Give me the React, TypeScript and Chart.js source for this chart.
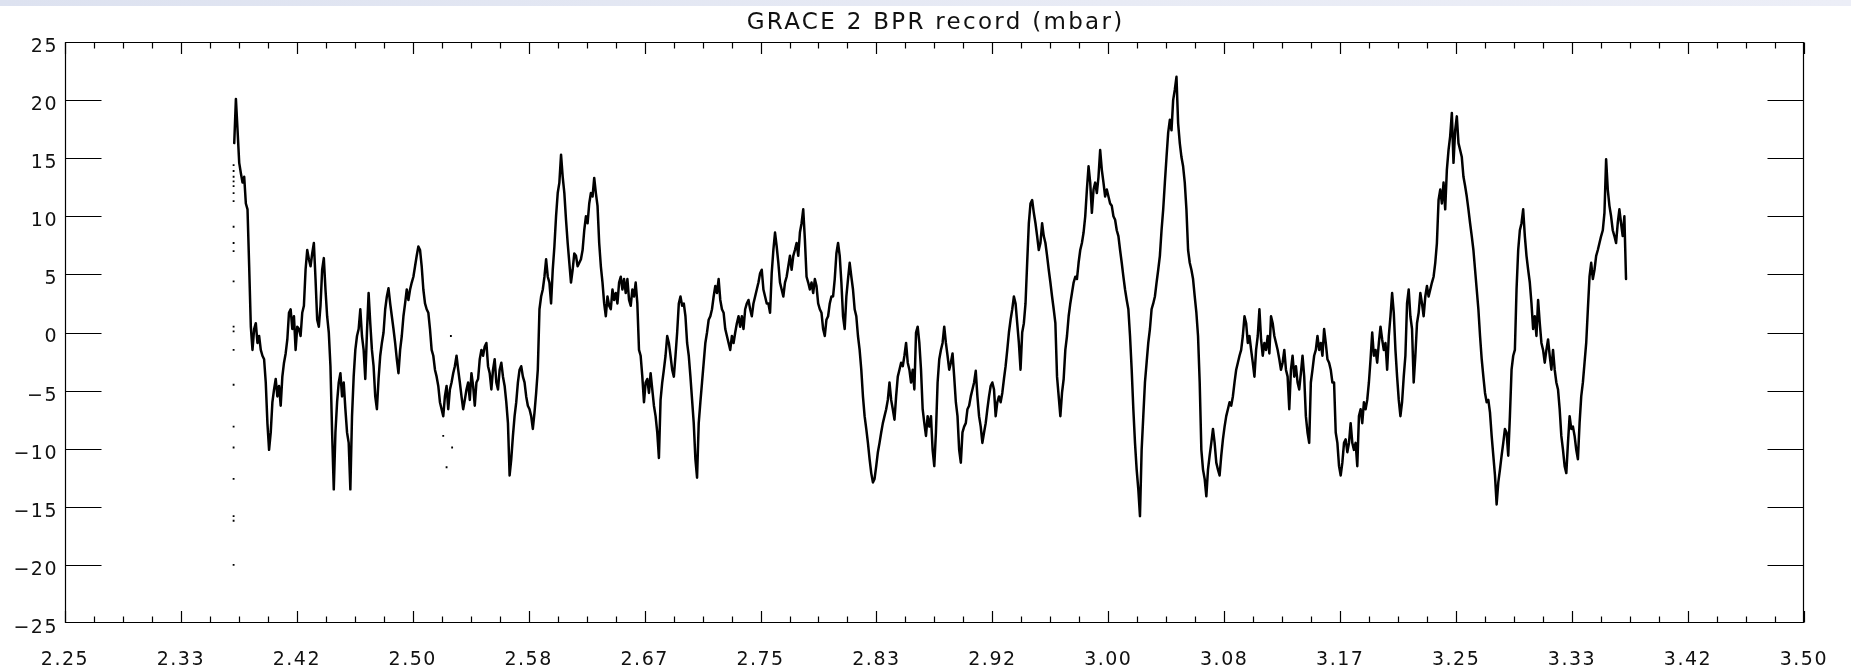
import React, { useEffect, useRef } from "react";
import { Chart, registerables } from "chart.js";

Chart.register(...registerables);

const TITLE = "GRACE 2 BPR record (mbar)";
const X_MIN = 2.25;
const X_MAX = 3.5;
const Y_MIN = -25;
const Y_MAX = 25;

const xTickValues = [2.25, 2.3333, 2.4167, 2.5, 2.5833, 2.6667, 2.75, 2.8333, 2.9167, 3.0, 3.0833, 3.1667, 3.25, 3.3333, 3.4167, 3.5];
const yTickValues = [-25, -20, -15, -10, -5, 0, 5, 10, 15, 20, 25];

// regular sampling grid of the record (time axis)
const RECORD_START = 2.37166;
const RECORD_STEP = 0.0011925;

// BPR values (mbar) in four consecutive parts
const bprPart1 = [
  16.3, 20.1, 17.4, 14.6, 13.7, 12.9, 13.4, 11.1, 10.6, 5.7,
  0.5, -1.5, 0.3, 0.8, -0.9, -0.3, -1.5, -2.0, -2.3, -4.3,
  -7.8, -10.1, -8.6, -6.0, -4.9, -4.0, -5.5, -4.6, -6.3, -3.8,
  -2.6, -1.8, -0.6, 1.7, 2.0, 0.3, 1.4, -1.5, 0.5, 0.3,
  -0.3, 1.7, 2.3, 5.4, 7.1, 6.3, 5.7, 6.8, 7.7, 4.6,
  1.1, 0.5, 2.3, 5.4, 6.4, 3.7, 1.4, 0.0, -2.9, -8.6,
  -13.5, -8.6, -6.0, -4.3, -3.5, -5.5, -4.3, -6.6, -8.6, -9.5,
  -13.5, -7.2, -3.8, -1.5, -0.3, 0.3, 2.0, -0.3, -1.5, -4.0,
  0.0, 3.4, 0.8, -1.5, -2.9, -5.5, -6.6, -4.0, -2.0, -0.9,
  0.0, 2.0, 3.1, 3.8, 2.5, 1.4, 0.3, -0.9, -2.3, -3.5,
  -1.5, -0.3, 1.4, 2.5, 3.7, 2.8, 3.7, 4.3, 4.8, 5.7,
  6.6, 7.4, 7.1, 5.7, 3.7, 2.5, 2.0, 1.7, 0.3, -1.5,
  -2.0, -3.2, -3.8, -4.6, -6.0, -6.6, -7.2, -5.5, -4.6, -6.6,
  -4.9, -4.3, -3.5, -2.9, -2.0, -3.2, -4.3, -5.5, -6.6, -5.8,
  -4.9, -4.3, -5.8, -3.5, -4.6, -6.3, -4.3, -4.0, -2.3, -1.5,
  -2.0, -1.2, -0.9, -2.9, -3.5, -4.9, -3.2, -2.3, -4.3, -4.9,
  -3.2, -2.6, -3.8, -4.6, -6.0, -7.8, -12.3, -10.9, -8.9, -7.2,
  -6.0, -4.3, -3.2, -2.9, -3.8, -4.3, -5.5, -6.3, -6.6, -7.2,
  -8.3, -6.9, -5.2, -3.2, 2.0, 3.1, 3.7, 4.8, 6.3, 4.8,
  4.3, 2.5, 5.4, 7.4, 10.0, 12.0, 12.9, 15.3, 13.4, 12.0,
  9.7, 7.7, 6.0, 4.3, 5.4, 6.8, 6.6,
];

const bprPart2 = [
  5.7, 6.0, 6.3, 7.1, 8.8, 10.0, 9.4, 11.1, 12.0, 11.7,
  13.3, 12.0, 10.9, 7.7, 5.7, 4.3, 2.5, 1.4, 3.1, 2.3,
  2.0, 3.7, 2.8, 3.4, 2.5, 4.3, 4.8, 3.7, 4.6, 3.4,
  4.6, 2.8, 2.3, 3.7, 3.1, 4.3, 2.5, -1.5, -2.0, -3.8,
  -6.0, -4.3, -4.0, -5.2, -3.5, -4.9, -6.3, -7.2, -8.6, -10.8,
  -5.8, -4.3, -3.2, -2.0, -0.3, -0.9, -2.0, -3.2, -3.8, -2.0,
  0.0, 2.5, 3.1, 2.3, 2.5, 1.4, -0.9, -2.0, -3.8, -5.8,
  -7.8, -10.9, -12.5, -7.8, -6.0, -4.3, -2.6, -0.9, 0.0, 1.1,
  1.4, 2.0, 3.1, 4.0, 3.4, 4.6, 2.8, 2.0, 1.7, 0.3,
  -0.3, -0.9, -1.5, -0.3, -0.9, 0.0, 0.8, 1.4, 0.5, 1.4,
  0.3, 2.0, 2.5, 2.8, 2.0, 1.4, 2.5, 3.1, 3.7, 4.3,
  5.1, 5.4, 3.7, 3.1, 2.5, 2.5, 1.7, 5.1, 7.1, 8.6,
  7.4, 6.0, 4.3, 3.7, 3.1, 4.3, 4.8, 5.7, 6.6, 5.4,
  6.6, 7.1, 7.7, 6.6, 8.6, 9.4, 10.6, 8.0, 4.8, 4.3,
  3.7, 4.3, 3.4, 4.6, 4.0, 2.5, 2.0, 1.7, 0.3, -0.3,
  1.1, 1.4, 2.5, 3.1, 3.1, 4.6, 6.8, 7.7, 6.6, 4.3,
  1.4, 0.3, 3.1, 4.6, 6.0, 4.8, 3.7, 2.0, 1.4, -0.3,
  -1.5, -3.2, -5.5, -7.2, -8.3, -9.5, -10.9, -12.1, -12.9, -12.6,
  -11.5, -10.3, -9.5, -8.6, -7.8, -7.2, -6.6, -5.8, -4.3, -5.8,
  -6.6, -7.5, -5.5, -3.8, -3.2, -2.6, -2.9, -2.0, -0.9, -2.6,
  -3.2, -4.3, -3.2, -4.9, 0.0, 0.5, -0.9, -3.2, -6.6, -7.8,
  -8.9, -7.2, -8.1,
];

const bprPart3 = [
  -7.2, -10.1, -11.5, -8.6, -4.3, -2.3, -1.5, -0.9, 0.5, -0.9,
  -2.0, -3.2, -2.6, -1.8, -3.8, -6.0, -7.2, -10.1, -11.2, -8.6,
  -8.1, -7.8, -6.6, -6.3, -5.5, -4.9, -4.3, -3.3, -5.5, -7.2,
  -8.1, -9.5, -8.6, -7.8, -6.6, -5.5, -4.6, -4.3, -4.9, -7.2,
  -6.0, -5.5, -6.0, -5.2, -4.0, -2.9, -1.5, 0.0, 1.1, 2.0,
  3.1, 2.5, 0.8, -0.9, -3.2, 0.0, 0.8, 2.5, 6.0, 9.4,
  11.1, 11.4, 10.3, 9.4, 8.3, 7.1, 7.7, 9.4, 8.3, 7.7,
  6.6, 5.4, 4.3, 3.1, 2.0, 0.8, -3.8, -5.5, -7.2, -5.2,
  -4.0, -1.5, -0.3, 1.4, 2.5, 3.4, 4.3, 4.8, 4.6, 6.0,
  7.1, 7.7, 8.6, 10.0, 12.3, 14.3, 12.9, 10.3, 12.3, 12.9,
  12.0, 13.4, 15.7, 14.0, 12.9, 11.7, 12.3, 11.7, 11.1, 10.9,
  10.0, 9.7, 8.8, 8.3, 7.1, 6.0, 4.8, 3.7, 2.8, 2.0,
  -0.3, -3.2, -6.6, -9.5, -11.8, -13.5, -15.8, -10.1, -7.2, -4.3,
  -2.6, -0.9, 0.3, 2.0, 2.5, 3.1, 4.3, 5.4, 6.6, 8.8,
  10.6, 12.9, 15.1, 17.2, 18.3, 17.4, 20.0, 20.9, 22.0, 18.0,
  16.3, 15.1, 14.3, 12.9, 10.6, 7.1, 6.0, 5.4, 4.6, 3.1,
  1.7, -0.3, -4.3, -10.1, -11.8, -12.6, -14.1, -11.8, -10.6, -9.5,
  -8.3, -9.5, -11.2, -11.8, -12.3, -10.6, -9.2, -8.1, -7.2, -6.6,
  -6.0, -6.3, -5.5, -4.3, -3.2, -2.6, -2.0, -1.5, -0.3, 1.4,
  0.8, -0.9, -0.3, -1.5, -2.6, -3.8, -1.5, -0.3, 2.0, -0.6,
  -2.0, -0.9, -1.5, -0.3, -1.8, 1.4, 0.8, -0.3, -0.9, -1.5,
  -2.3, -3.2, -2.6,
];

const bprPart4 = [
  -1.5, -3.2, -3.8, -6.6, -3.2, -2.0, -3.8, -2.9, -4.3, -4.9,
  -3.5, -2.0, -3.8, -7.2, -8.6, -9.5, -4.3, -3.2, -2.0, -1.5,
  -0.3, -1.5, -0.9, -2.0, 0.3, -0.9, -2.3, -2.6, -3.2, -4.3,
  -4.3, -8.6, -9.5, -11.5, -12.3, -11.2, -9.5, -9.2, -10.3, -9.5,
  -7.8, -9.5, -10.1, -9.5, -11.5, -7.2, -6.6, -7.8, -6.0, -6.6,
  -5.8, -4.3, -2.3, 0.0, -2.0, -1.5, -2.6, -0.9, 0.5, -0.6,
  -1.5, -0.9, -3.2, -0.3, 1.4, 3.4, 1.7, -1.5, -3.8, -5.8,
  -7.2, -6.0, -3.8, -2.0, 2.5, 3.7, 1.4, 0.3, -4.3, -2.0,
  0.8, 1.7, 3.4, 2.5, 1.4, 3.1, 4.0, 3.1, 3.7, 4.3,
  4.8, 6.0, 7.7, 11.4, 12.3, 11.1, 12.9, 10.6, 14.0, 15.7,
  16.9, 18.9, 14.6, 17.4, 18.6, 16.3, 15.7, 15.1, 13.4, 12.6,
  11.7, 10.6, 9.4, 8.3, 7.1, 5.4, 3.7, 2.0, -0.3, -2.3,
  -3.8, -5.2, -6.0, -5.8, -6.9, -8.9, -10.6, -12.3, -14.8, -12.9,
  -11.8, -10.6, -9.5, -8.3, -8.6, -10.6, -7.2, -3.2, -2.0, -1.5,
  3.7, 7.1, 8.8, 9.4, 10.6, 8.3, 6.6, 5.4, 4.3, 2.5,
  0.3, 1.4, -0.3, 2.8, 0.8, -0.9, -1.5, -2.6, -1.5, -0.6,
  -2.0, -3.2, -1.5, -3.2, -4.3, -4.9, -6.6, -8.9, -10.1, -11.5,
  -12.1, -9.5, -7.2, -8.3, -8.1, -8.9, -10.1, -10.9, -7.8, -5.5,
  -4.3, -2.6, -0.9, 2.0, 4.8, 6.0, 4.6, 5.4, 6.6, 7.1,
  7.7, 8.3, 8.8, 10.3, 14.9, 12.3, 10.9, 10.0, 8.8, 8.3,
  7.7, 9.4, 10.6, 9.4, 8.3, 10.0, 4.6,
];

// isolated samples plotted as single dots
const strayTimes = [
  2.3712, 2.3712, 2.3712, 2.3712, 2.3712, 2.3712, 2.3712, 2.3712, 2.3712, 2.3712, 2.3712,
  2.3712, 2.3712, 2.3712, 2.3712, 2.3712, 2.3712, 2.3712, 2.3712, 2.3712, 2.3712,
  2.5219, 2.5243, 2.5283, 2.5274,
];
const strayValues = [
  14.4, 13.9, 13.4, 13.0, 12.6, 12.0, 11.3, 9.1, 7.7, 7.0, 4.4,
  0.5, 0.1, -1.5, -4.5, -8.1, -9.9, -12.6, -15.8, -16.2, -20.0,
  -8.9, -11.6, -9.9, -0.3,
];

const FONT_FAMILY = '"DejaVu Sans", "Liberation Sans", sans-serif';

const formatY = (v: number) => (v < 0 ? "\u2212" + Math.abs(v) : String(v));

const idlFramePlugin = {
  id: "idlFrame",
  beforeDraw(chart: any) {
    (chart.ctx as any).letterSpacing = "1.5px";
  },
  afterDraw(chart: any) {
    const { ctx, chartArea, scales } = chart;
    const { left, right, top, bottom } = chartArea;
    const xs = scales.x;
    const ys = scales.y;
    const L = Math.round(left) + 0.5;
    const R = Math.round(right) - 0.5;
    const T = Math.round(top) + 0.5;
    const B = Math.round(bottom) - 0.5;
    ctx.save();
    ctx.strokeStyle = "#000";
    ctx.lineWidth = 1.2;
    ctx.beginPath();
    ctx.rect(L, T, R - L, B - T);
    ctx.stroke();

    const majorLen = 11.5;
    const minorLen = 6;
    ctx.beginPath();
    for (let i = 0; i < xTickValues.length; i++) {
      const px = Math.round(xs.getPixelForValue(xTickValues[i])) + 0.5;
      ctx.moveTo(px, B);
      ctx.lineTo(px, B - majorLen);
      ctx.moveTo(px, T);
      ctx.lineTo(px, T + majorLen);
      if (i < xTickValues.length - 1) {
        for (let k = 1; k < 4; k++) {
          const v = xTickValues[i] + ((xTickValues[i + 1] - xTickValues[i]) * k) / 4;
          const mx = Math.round(xs.getPixelForValue(v)) + 0.5;
          ctx.moveTo(mx, B);
          ctx.lineTo(mx, B - minorLen);
          ctx.moveTo(mx, T);
          ctx.lineTo(mx, T + minorLen);
        }
      }
    }
    const yLen = 36;
    for (const v of yTickValues) {
      if (v === Y_MIN || v === Y_MAX) continue;
      const py = Math.round(ys.getPixelForValue(v)) + 0.5;
      ctx.moveTo(L, py);
      ctx.lineTo(L + yLen, py);
      ctx.moveTo(R, py);
      ctx.lineTo(R - yLen, py);
    }
    ctx.stroke();

    ctx.fillStyle = "#111";
    ctx.font = "23px " + FONT_FAMILY;
    ctx.textAlign = "center";
    ctx.textBaseline = "middle";
    (ctx as any).letterSpacing = "2.3px";
    ctx.fillText(TITLE, (left + right) / 2 + 1.2, 23.5);
    ctx.restore();
    (ctx as any).letterSpacing = "0px";
  },
};

export default function App() {
  const canvasRef = useRef<HTMLCanvasElement | null>(null);

  useEffect(() => {
    const canvas = canvasRef.current;
    if (!canvas) return;
    const values = [...bprPart1, ...bprPart2, ...bprPart3, ...bprPart4];
    const tracePoints = values.map((v, i) => ({ x: RECORD_START + i * RECORD_STEP, y: v }));
    const strayPoints = strayTimes.map((t, i) => ({ x: t, y: strayValues[i] }));

    const tickFont = { family: FONT_FAMILY, size: 19 };

    const chart = new Chart(canvas, {
      type: "line",
      data: {
        datasets: [
          {
            label: "BPR",
            data: tracePoints,
            borderColor: "#000",
            backgroundColor: "#000",
            borderWidth: 2.5,
            borderJoinStyle: "round",
            borderCapStyle: "round",
            pointRadius: 0,
            tension: 0,
            fill: false,
          },
          {
            type: "scatter",
            label: "isolated",
            data: strayPoints,
            pointRadius: 1.3,
            pointStyle: "rect",
            backgroundColor: "#000",
            borderColor: "#000",
            borderWidth: 0,
            showLine: false,
          } as any,
        ],
      },
      options: {
        responsive: false,
        animation: false,
        devicePixelRatio: 1,
        events: [],
        layout: { padding: { top: 42, right: 39, bottom: 0, left: 0 } },
        plugins: {
          legend: { display: false },
          title: { display: false },
          tooltip: { enabled: false },
        },
        scales: {
          x: {
            type: "linear",
            min: X_MIN,
            max: X_MAX,
            grid: { display: false, drawTicks: false },
            border: { display: false },
            afterBuildTicks: (s: any) => {
              s.ticks = xTickValues.map((v) => ({ value: v }));
            },
            afterFit: (s: any) => {
              s.height = 45;
            },
            ticks: {
              autoSkip: false,
              maxRotation: 0,
              minRotation: 0,
              padding: 26,
              color: "#111",
              font: tickFont,
              callback: (v: any) => Number(v).toFixed(2),
            },
          },
          y: {
            type: "linear",
            min: Y_MIN,
            max: Y_MAX,
            grid: { display: false, drawTicks: false },
            border: { display: false },
            afterBuildTicks: (s: any) => {
              s.ticks = yTickValues.map((v) => ({ value: v }));
            },
            afterFit: (s: any) => {
              s.width = 65;
            },
            ticks: {
              autoSkip: false,
              padding: 7,
              labelOffset: 5,
              color: "#111",
              font: tickFont,
              callback: (v: any) => formatY(Number(v)),
            },
          },
        },
      } as any,
      plugins: [idlFramePlugin],
    });

    return () => {
      chart.destroy();
    };
  }, []);

  return (
    <div style={{ position: "fixed", left: 0, top: 0, width: 1851, height: 668, background: "#fff", overflow: "hidden" }}>
      <canvas ref={canvasRef} width={1851} height={668} style={{ display: "block", width: 1851, height: 668 }} />
      <div
        style={{
          position: "absolute",
          left: 0,
          top: 0,
          width: 1851,
          height: 6,
          background: "linear-gradient(to right, #dde2f0, #e8ebf5 60%, #eceef7)",
        }}
      />
    </div>
  );
}
